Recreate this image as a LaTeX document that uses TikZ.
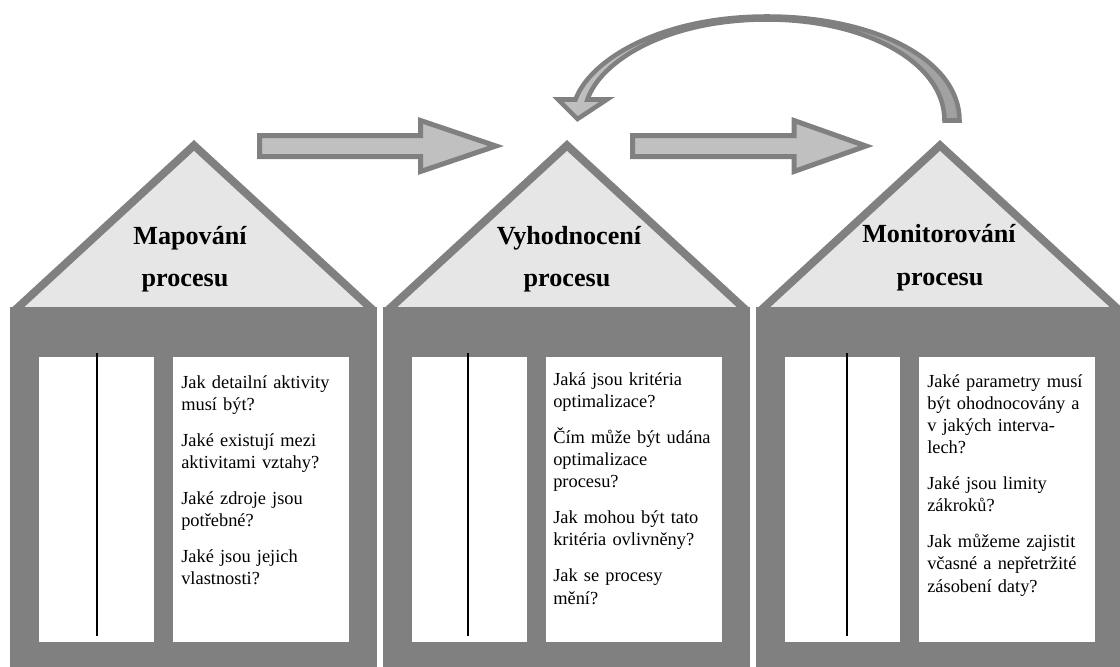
\documentclass[tikz,border=0pt]{standalone}
\usepackage{fontspec}
\setmainfont{Liberation Serif}
\definecolor{wall}{HTML}{808080}
\definecolor{roofface}{HTML}{E6E6E6}
\definecolor{arrowfill}{HTML}{C0C0C0}
\definecolor{arrowdark}{HTML}{A0A0A0}
\begin{document}
\begin{tikzpicture}[x=0.75pt, y=-0.75pt,
  wallfill/.style={fill=wall},
  roofpanel/.style={fill=roofface},
  pane/.style={fill=white},
  divider/.style={draw=black, line width=1.4pt},
  title/.style={font=\fontsize{19.6}{23}\selectfont\bfseries, anchor=base, inner sep=0pt},
  question/.style={font=\fontsize{13.8}{16.6}\selectfont, anchor=base west, align=left,
                   text width=135pt, inner sep=0pt},
  blockarrow/.style={draw=wall, line width=3.75pt, fill=arrowfill, line join=miter},
  bentarrow/.style={draw=wall, line width=3.4pt, line join=miter,
                    left color=arrowfill, right color=arrowdark}]
\useasboundingbox (0,0) rectangle (1120,667);
\clip (0,0) rectangle (1120,667);

% three houses: body, roof, two window panes and a divider
\foreach \n/\l/\r/\a/\d in {1/10/377/194/97, 2/383/750/567/468, 3/756/1124/940/847}{
  \fill[wallfill] (\a,140) -- ({\a-182},307.5) -- ({\a+182},307.5) -- cycle;
  \fill[roofpanel] (\a,151) -- ({\a-170},307.5) -- ({\a+170},307.5) -- cycle;
  \fill[wallfill] (\l,307) rectangle (\r,668);
  \fill[pane] ({\l+28.5},357) rectangle ({\l+143.5},642);
  \fill[pane] ({\l+163},357) rectangle ({\l+338.5},642);
  \draw[divider] (\d,353) coordinate (top\n) -- (\d,636) coordinate (bot\n);
}

% roof titles
\node[title] (t1a) at (190,244) {Mapování};
\node[title] (t1b) at (185,286) {procesu};
\node[title] (t2a) at (569,244) {Vyhodnocení};
\node[title] (t2b) at (567,286) {procesu};
\node[title] (t3a) at (939,242) {Monitorování};
\node[title] (t3b) at (940,285) {procesu};

% questions
\node[question] (q1) at (181,388) {Jak detailní aktivity\\ musí být?\\[10.5pt]
  Jaké existují mezi\\ aktivitami vztahy?\\[10.5pt]
  Jaké zdroje jsou\\ potřebné?\\[10.5pt]
  Jaké jsou jejich\\ vlastnosti?};
\node[question] (q2) at (553,385) {Jaká jsou kritéria\\ optimalizace?\\[10.5pt]
  Čím může být udána\\ optimalizace\\ procesu?\\[10.5pt]
  Jak mohou být tato\\ kritéria ovlivněny?\\[10.5pt]
  Jak se procesy\\ mění?};
\node[question] (q3) at (927,387) {Jaké parametry musí\\ být ohodnocovány a\\ v jakých interva-\\ lech?\\[10.5pt]
  Jaké jsou limity\\ zákroků?\\[10.5pt]
  Jak můžeme zajistit\\ včasné a nepřetržité\\ zásobení daty?};

% straight block arrows between the houses
\draw[blockarrow] (259.5,135.5) -- (420.5,135.5) -- (420.5,120.5) -- (496,146)
  -- (420.5,171.5) -- (420.5,156.5) -- (259.5,156.5) -- cycle;
\draw[blockarrow] (632.5,135.5) -- (794,135.5) -- (794,120.5) -- (866,146)
  -- (794,171.5) -- (794,156.5) -- (632.5,156.5) -- cycle;

% curved feedback arrow
\draw[bentarrow] (959.5,120.5) .. controls (959.5,60) and (875,16.5) .. (767,16.5)
  .. controls (660,16.5) and (590,60) .. (575.5,99.5)
  -- (558,99.5) -- (577.5,119) -- (607,99.5) -- (587.5,99.5)
  .. controls (600,62) and (665,19.5) .. (767,19.5)
  .. controls (865,19.5) and (944.5,62) .. (944.5,120.5) -- cycle;
\end{tikzpicture}
\end{document}
